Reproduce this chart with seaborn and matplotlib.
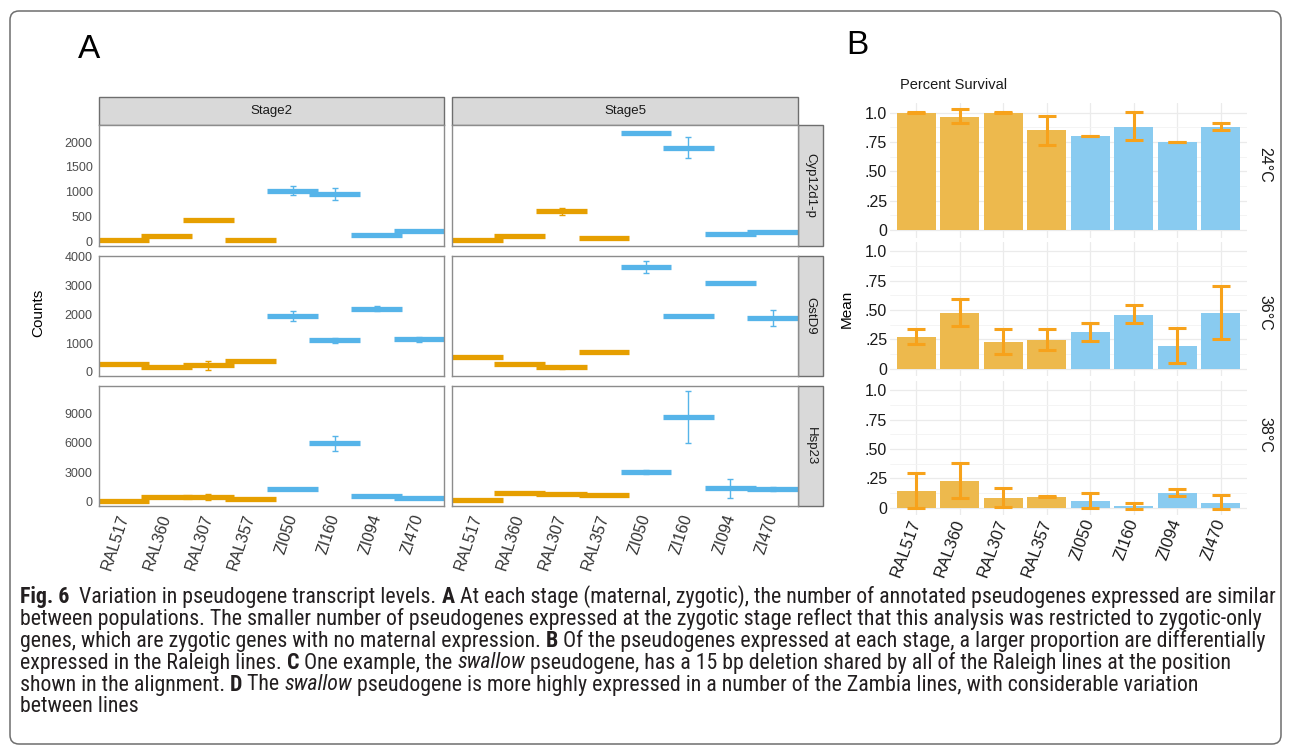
import numpy as np
import pandas as pd
import matplotlib
matplotlib.use("Agg")
import matplotlib.pyplot as plt
import seaborn as sns
from matplotlib.patches import FancyBboxPatch, Rectangle
from matplotlib.ticker import FixedLocator
from matplotlib import font_manager

# ---------------- data ----------------
lines = ["RAL517", "RAL360", "RAL307", "RAL357", "ZI050", "ZI160", "ZI094", "ZI470"]
population = ["Raleigh"] * 4 + ["Zambia"] * 4
genes = ["Cyp12d1-p", "GstD9", "Hsp23"]
stages = ["Stage2", "Stage5"]

# Panel A: mean counts and error half-widths
cyp_s2_mean = [20, 100, 430, 30, 1020, 955, 115, 210]
cyp_s2_err = [5, 10, 15, 5, 85, 120, 15, 15]
cyp_s5_mean = [15, 110, 600, 55, 2185, 1890, 135, 180]
cyp_s5_err = [5, 15, 75, 5, 25, 210, 10, 10]

gst_s2_mean = [270, 160, 230, 390, 1950, 1100, 2200, 1130]
gst_s2_err = [10, 20, 160, 10, 170, 90, 100, 80]
gst_s5_mean = [530, 280, 160, 680, 3650, 1930, 3080, 1875]
gst_s5_err = [10, 30, 60, 20, 215, 20, 30, 265]

hsp_s2_mean = [100, 510, 470, 240, 1290, 5920, 610, 410]
hsp_s2_err = [20, 60, 300, 30, 150, 740, 40, 30]
hsp_s5_mean = [170, 915, 750, 650, 3045, 8630, 1360, 1290]
hsp_s5_err = [20, 30, 60, 30, 220, 2640, 960, 200]

yticks_A = [[0, 500, 1000, 1500, 2000], [0, 1000, 2000, 3000, 4000], [0, 3000, 6000, 9000]]

# Panel B: percent survival
temps = ["24°C", "36°C", "38°C"]
t24_mean = [1.0, 0.963, 1.0, 0.849, 0.801, 0.881, 0.750, 0.881]
t24_lo = [0.997, 0.909, 0.997, 0.727, 0.799, 0.770, 0.748, 0.852]
t24_hi = [1.003, 1.028, 1.003, 0.974, 0.803, 1.006, 0.752, 0.915]
t36_mean = [0.273, 0.479, 0.228, 0.245, 0.313, 0.459, 0.194, 0.479]
t36_lo = [0.210, 0.365, 0.125, 0.160, 0.239, 0.387, 0.046, 0.256]
t36_hi = [0.339, 0.598, 0.336, 0.336, 0.393, 0.544, 0.348, 0.709]
t38_mean = [0.145, 0.224, 0.082, 0.094, 0.057, 0.011, 0.128, 0.043]
t38_lo = [0.000, 0.080, 0.010, 0.088, -0.006, -0.014, 0.100, -0.014]
t38_hi = [0.295, 0.378, 0.170, 0.100, 0.125, 0.037, 0.162, 0.111]
yticks_B = [0, 0.25, 0.5, 0.75, 1.0]
ytick_labels_B = ["0", ".25", ".50", ".75", "1.0"]

# ---------------- tables ----------------
A_means = {("Cyp12d1-p", "Stage2"): cyp_s2_mean, ("Cyp12d1-p", "Stage5"): cyp_s5_mean,
           ("GstD9", "Stage2"): gst_s2_mean, ("GstD9", "Stage5"): gst_s5_mean,
           ("Hsp23", "Stage2"): hsp_s2_mean, ("Hsp23", "Stage5"): hsp_s5_mean}
A_errs = {("Cyp12d1-p", "Stage2"): cyp_s2_err, ("Cyp12d1-p", "Stage5"): cyp_s5_err,
          ("GstD9", "Stage2"): gst_s2_err, ("GstD9", "Stage5"): gst_s5_err,
          ("Hsp23", "Stage2"): hsp_s2_err, ("Hsp23", "Stage5"): hsp_s5_err}
recA = []
for (g, s), m in A_means.items():
    for i, ln in enumerate(lines):
        recA.append(dict(gene=g, stage=s, line=ln, pop=population[i], mean=m[i], err=A_errs[(g, s)][i]))
dfA = pd.DataFrame(recA)

B_vals = {"24°C": (t24_mean, t24_lo, t24_hi), "36°C": (t36_mean, t36_lo, t36_hi),
          "38°C": (t38_mean, t38_lo, t38_hi)}
recB = []
for t, (m, lo, hi) in B_vals.items():
    for i, ln in enumerate(lines):
        recB.append(dict(temp=t, line=ln, pop=population[i], mean=m[i], lo=lo[i], hi=hi[i]))
dfB = pd.DataFrame(recB)

# ---------------- style ----------------
sns.set_theme(style="white")
plt.rcParams["font.family"] = ["Liberation Sans", "DejaVu Sans"]
ORANGE = "#E69F00"
BLUE = "#56B4E9"
pal_line = {"Raleigh": ORANGE, "Zambia": BLUE}
pal_bar = {"Raleigh": "#EDB94D", "Zambia": "#89CBF0"}
ERR_B = "#F7A21B"

W, H = 1290, 753
fig = plt.figure(figsize=(W / 100, H / 100), dpi=100)
fig.patch.set_facecolor("white")
bg = fig.add_axes([0, 0, 1, 1], zorder=-1)
bg.set_xlim(0, W)
bg.set_ylim(H, 0)
bg.axis("off")
renderer = fig.canvas.get_renderer()


def pax(x0, y0, x1, y1):
    return fig.add_axes([x0 / W, 1 - y1 / H, (x1 - x0) / W, (y1 - y0) / H])


# outer rounded border
bg.add_patch(FancyBboxPatch((10, 11), 1271, 733, boxstyle="round,pad=0,rounding_size=9",
                            fill=False, ec="#6E6E6E", lw=1.1))

# ---------------- Panel A ----------------
colsA = [(99, 444), (452, 798)]
rowsA = [(125, 246), (256, 376), (386, 506)]
ylimsA = [(-101, 2350), (-139, 4024), (-436, 11740)]
x = np.arange(len(lines))

for r, g in enumerate(genes):
    for c, s in enumerate(stages):
        x0, x1 = colsA[c]
        y0, y1 = rowsA[r]
        ax = pax(x0, y0, x1, y1)
        sub = dfA[(dfA.gene == g) & (dfA.stage == s)].set_index("line").loc[lines]
        for i, ln in enumerate(lines):
            col = pal_line[sub.loc[ln, "pop"]]
            m = sub.loc[ln, "mean"]
            e = sub.loc[ln, "err"]
            ax.hlines(m, i - 0.6, i + 0.6, colors=col, lw=3.8, zorder=2)
            ax.errorbar(i, m, yerr=e, fmt="none", ecolor=col, elinewidth=1.0,
                        capsize=2, capthick=1.0, zorder=3)
        ax.set_xlim(-0.6, 7.6)
        ax.set_ylim(*ylimsA[r])
        ax.set_facecolor("white")
        for sp in ax.spines.values():
            sp.set_color("#8C8C8C")
            sp.set_linewidth(1.0)
        ax.set_xticks(x)
        ax.set_yticks(yticks_A[r])
        ax.tick_params(axis="both", length=3, width=0.8, color="#333333",
                       labelsize=9, labelcolor="#4D4D4D", pad=1.5)
        if c == 0:
            ax.set_yticklabels([str(v) for v in yticks_A[r]])
        else:
            ax.tick_params(axis="y", left=False, labelleft=False)
        if r == 2:
            ax.set_xticklabels(lines, rotation=72, ha="right", va="center",
                               rotation_mode="anchor", fontsize=11.5, color="#333333")
            ax.tick_params(axis="x", pad=3)
        else:
            ax.tick_params(axis="x", bottom=False, labelbottom=False)
        ax.set_xlabel("")
        ax.set_ylabel("")

# strips for panel A
for c, s in enumerate(stages):
    x0, x1 = colsA[c]
    bg.add_patch(Rectangle((x0, 97), x1 - x0, 28, fc="#D9D9D9", ec="#6E6E6E", lw=1.0))
    bg.text((x0 + x1) / 2, 111, s, ha="center", va="center", fontsize=9.5, color="#1A1A1A")
for r, g in enumerate(genes):
    y0, y1 = rowsA[r]
    bg.add_patch(Rectangle((798, y0), 25, y1 - y0, fc="#D9D9D9", ec="#6E6E6E", lw=1.0))
    bg.text(810.5, (y0 + y1) / 2, g, ha="center", va="center", rotation=-90,
            fontsize=9.5, color="#1A1A1A")

bg.text(38, 313, "Counts", rotation=90, ha="center", va="center", fontsize=11, color="black")
bg.text(89, 49, "A", ha="center", va="center", fontsize=24, color="black")

# ---------------- Panel B ----------------
PX_PER_UNIT = 117.3
ylimB = (-0.066, 1.08)
zeroB = [230, 368.7, 507.7]
for r, t in enumerate(temps):
    top = zeroB[r] - ylimB[1] * PX_PER_UNIT
    bot = zeroB[r] - ylimB[0] * PX_PER_UNIT
    ax = pax(890, top, 1247, bot)
    sub = dfB[dfB.temp == t].set_index("line").loc[lines].reset_index()
    sns.barplot(data=sub, x="line", y="mean", hue="pop", order=lines,
                hue_order=["Raleigh", "Zambia"], palette=pal_bar, dodge=False,
                width=0.9, errorbar=None, linewidth=0, saturation=1, legend=False,
                ax=ax, zorder=2)
    ax.errorbar(np.arange(len(lines)), sub["mean"],
                yerr=[sub["mean"] - sub["lo"], sub["hi"] - sub["mean"]],
                fmt="none", ecolor=ERR_B, elinewidth=2.2, capsize=6.5, capthick=2.2, zorder=3)
    ax.set_xlim(-0.6, 7.6)
    ax.set_ylim(*ylimB)
    ax.set_facecolor("none")
    ax.set_axisbelow(True)
    for sp in ax.spines.values():
        sp.set_visible(False)
    ax.set_yticks(yticks_B)
    ax.set_yticklabels(ytick_labels_B)
    ax.yaxis.set_minor_locator(FixedLocator([0.125, 0.375, 0.625, 0.875]))
    ax.grid(True, which="major", color="#EBEBEB", lw=0.9)
    ax.grid(True, which="minor", axis="y", color="#F3F3F3", lw=0.6)
    ax.tick_params(axis="both", which="both", length=0, labelsize=11.5,
                   labelcolor="#1A1A1A", pad=2)
    if r == 2:
        ax.set_xticks(np.arange(len(lines)))
        ax.set_xticklabels(lines, rotation=70, ha="right", va="center",
                           rotation_mode="anchor", fontsize=12, color="#1A1A1A")
        ax.tick_params(axis="x", pad=3)
    else:
        ax.tick_params(axis="x", labelbottom=False)
    ax.set_xlabel("")
    ax.set_ylabel("")

temp_y = [165, 313, 435]
for t, yy in zip(temps, temp_y):
    bg.text(1265, yy, t, rotation=-90, ha="center", va="center", fontsize=11.5, color="#1A1A1A")
bg.text(847, 309, "Mean", rotation=90, ha="center", va="center", fontsize=11, color="black")
bg.text(900, 85, "Percent Survival", ha="left", va="center", fontsize=10.5, color="#1A1A1A")
bg.text(857, 45, "B", ha="center", va="center", fontsize=24, color="black")

# ---------------- Caption ----------------
names = {f.name for f in font_manager.fontManager.ttflist}
cap_family, cap_stretch = "Liberation Sans", "normal"
for cand in ["Liberation Sans Narrow", "Roboto Condensed", "Open Sans Condensed"]:
    if cand in names:
        cap_family = cand
        break
else:
    for fam in ["Noto Sans", "DejaVu Sans", "Open Sans", "Roboto"]:
        if any(f.name == fam and "condensed" in str(f.stretch) for f in font_manager.fontManager.ttflist):
            cap_family, cap_stretch = fam, "condensed"
            break

cap_lines = [
    [("Fig. 6", "b"), ("  Variation in pseudogene transcript levels. ", "n"), ("A", "b"),
     (" At each stage (maternal, zygotic), the number of annotated pseudogenes expressed are similar", "n")],
    [("between populations. The smaller number of pseudogenes expressed at the zygotic stage reflect that this analysis was restricted to zygotic-only", "n")],
    [("genes, which are zygotic genes with no maternal expression. ", "n"), ("B", "b"),
     (" Of the pseudogenes expressed at each stage, a larger proportion are differentially", "n")],
    [("expressed in the Raleigh lines. ", "n"), ("C", "b"), (" One example, the ", "n"), ("swallow", "i"),
     (" pseudogene, has a 15 bp deletion shared by all of the Raleigh lines at the position", "n")],
    [("shown in the alignment. ", "n"), ("D", "b"), (" The ", "n"), ("swallow", "i"),
     (" pseudogene is more highly expressed in a number of the Zambia lines, with considerable variation", "n")],
    [("between lines", "n")],
]
cap_y = [597, 619, 641, 663, 685, 707]


def cap_kw(style, size):
    kw = dict(fontsize=size, family=[cap_family, "DejaVu Sans"], fontstretch=cap_stretch,
              color="#231F20", va="center", ha="left")
    if style == "b":
        kw["fontweight"] = "bold"
    if style == "i":
        kw["fontstyle"] = "italic"
    return kw


def adv(s, style, size):
    t1 = bg.text(0, 0, s + "|", **cap_kw(style, size))
    w1 = t1.get_window_extent(renderer).width
    t1.remove()
    t2 = bg.text(0, 0, "|", **cap_kw(style, size))
    w2 = t2.get_window_extent(renderer).width
    t2.remove()
    return w1 - w2


base = 10.0
w_max = max(sum(adv(s, st, base) for s, st in cap_lines[k]) for k in range(5))
cap_size = min(16.5, max(8.0, base * 1252.0 / w_max))

for segs, yy in zip(cap_lines, cap_y):
    xx = 20.0
    for s, st in segs:
        bg.text(xx, yy, s, **cap_kw(st, cap_size))
        xx += adv(s, st, cap_size)

fig.savefig("out.png", dpi=100, facecolor="white")
